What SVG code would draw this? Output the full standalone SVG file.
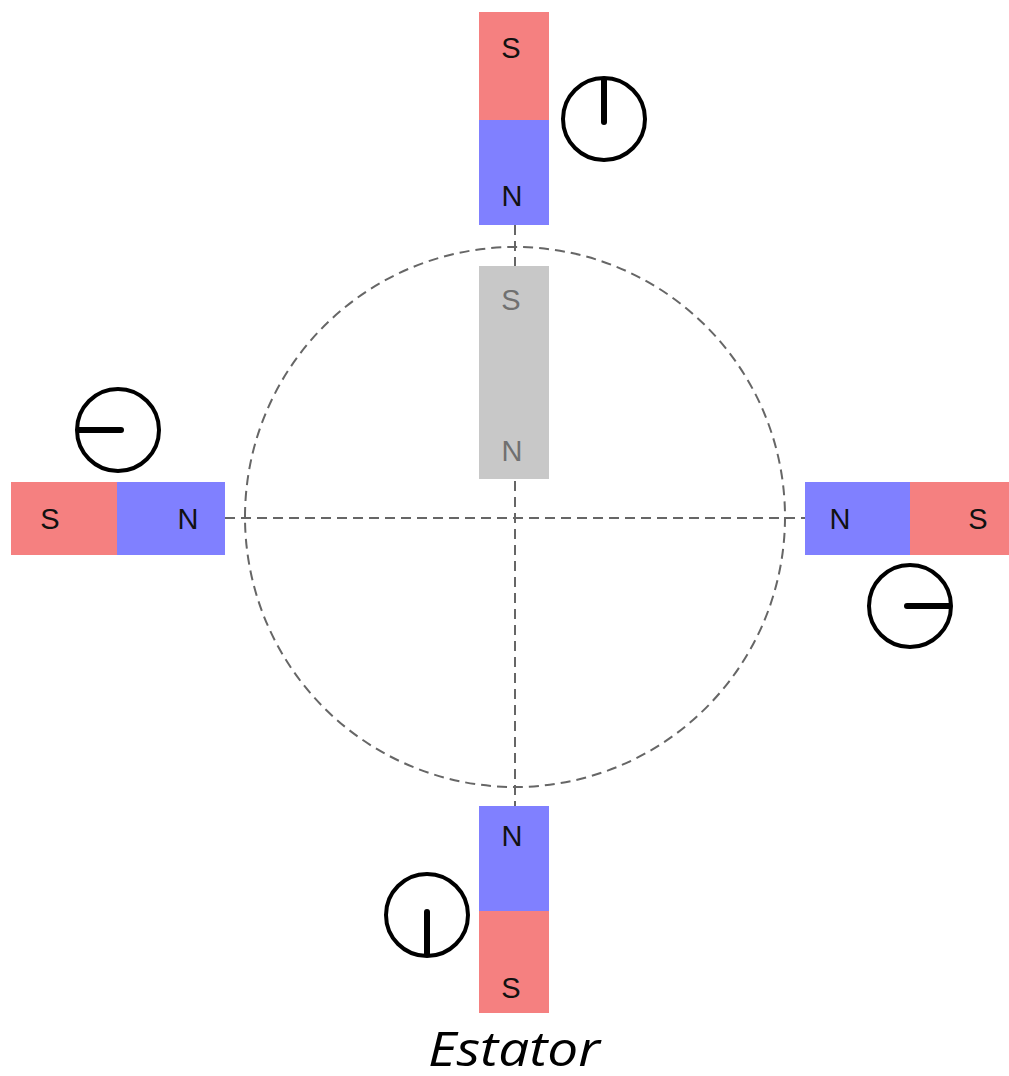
<svg xmlns="http://www.w3.org/2000/svg" width="1009" height="1076" viewBox="0 0 1009 1076">
<style>
.s{fill:#F58080}
.n{fill:#8080FF}
.g{fill:#C8C8C8}
.t{font-family:"Liberation Sans",Arial,sans-serif;font-size:29px;text-anchor:middle;dominant-baseline:central;fill:#111}
.tg{fill:#707070}
.dash{fill:none;stroke:#666;stroke-width:2;stroke-dasharray:10 6}
.dial{fill:#fff;stroke:#000;stroke-width:4}
.needle{stroke:#000;stroke-width:6;stroke-linecap:round}
</style>
<rect width="1009" height="1076" fill="#fff"/>
<g id="connectors">
<circle class="dash" cx="515" cy="517" r="270"/>
<line class="dash" x1="225" y1="518" x2="805" y2="518"/>
<line class="dash" x1="515" y1="225" x2="515" y2="806"/>
</g>
<g id="rotor">
<rect class="g" x="479" y="266" width="70" height="213"/>
<text class="t tg" x="511" y="300">S</text>
<text class="t tg" x="512" y="451">N</text>
</g>
<g id="magnet-top">
<rect class="s" x="479" y="12" width="70" height="108"/>
<rect class="n" x="479" y="120" width="70" height="105"/>
<text class="t" x="511" y="48">S</text>
<text class="t" x="512" y="196">N</text>
</g>
<g id="magnet-left">
<rect class="s" x="11" y="482" width="106" height="73"/>
<rect class="n" x="117" y="482" width="108" height="73"/>
<text class="t" x="50" y="519">S</text>
<text class="t" x="188" y="519">N</text>
</g>
<g id="magnet-right">
<rect class="n" x="805" y="482" width="105" height="73"/>
<rect class="s" x="910" y="482" width="99" height="73"/>
<text class="t" x="840" y="519">N</text>
<text class="t" x="978" y="519">S</text>
</g>
<g id="magnet-bottom">
<rect class="n" x="479" y="806" width="70" height="105"/>
<rect class="s" x="479" y="911" width="70" height="102"/>
<text class="t" x="512" y="836">N</text>
<text class="t" x="511" y="988">S</text>
</g>
<g id="dial-top">
<circle class="dial" cx="604" cy="119" r="41"/>
<line class="needle" x1="604" y1="122" x2="604" y2="80"/>
</g>
<g id="dial-left">
<circle class="dial" cx="118" cy="430" r="41"/>
<line class="needle" x1="121" y1="430" x2="79" y2="430"/>
</g>
<g id="dial-right">
<circle class="dial" cx="910" cy="606" r="41"/>
<line class="needle" x1="907" y1="606" x2="949" y2="606"/>
</g>
<g id="dial-bottom">
<circle class="dial" cx="427" cy="915" r="41"/>
<line class="needle" x1="427" y1="912" x2="427" y2="954"/>
</g>
<text x="514" y="1066" font-family="'Open Sans','Noto Sans',sans-serif" font-style="italic" font-size="48" text-anchor="middle" textLength="172" lengthAdjust="spacingAndGlyphs" fill="#000">Estator</text>
</svg>
